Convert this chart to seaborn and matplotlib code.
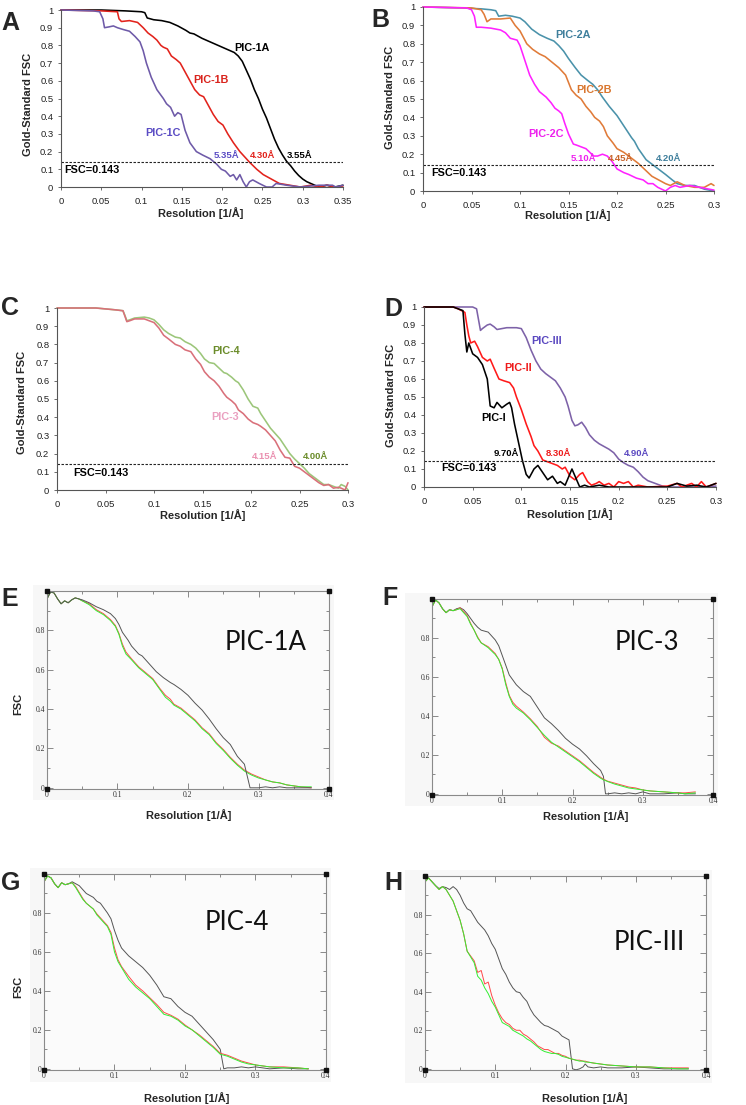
import matplotlib
matplotlib.use("Agg")
import matplotlib.pyplot as plt
import seaborn as sns
from matplotlib.ticker import FixedLocator, FuncFormatter, MultipleLocator
from matplotlib.patches import Rectangle

# ---------------- Panel A ----------------
A_1A_x = [0, 0.05, 0.08, 0.1, 0.104, 0.107, 0.115, 0.125, 0.135, 0.145, 0.155, 0.16, 0.165, 0.175, 0.185, 0.195, 0.205, 0.215, 0.22, 0.225, 0.23, 0.235, 0.24, 0.245, 0.25, 0.255, 0.26, 0.265, 0.27, 0.275, 0.28, 0.285, 0.29, 0.295, 0.3, 0.305, 0.31, 0.315, 0.32, 0.33, 0.34, 0.35]
A_1A_y = [1.0, 1.0, 0.995, 0.99, 0.985, 0.955, 0.945, 0.94, 0.93, 0.91, 0.885, 0.87, 0.865, 0.84, 0.82, 0.8, 0.78, 0.76, 0.74, 0.71, 0.66, 0.61, 0.55, 0.5, 0.44, 0.39, 0.33, 0.27, 0.22, 0.18, 0.145, 0.12, 0.09, 0.065, 0.045, 0.03, 0.02, 0.01, 0.0, 0.01, 0.0, 0.01]
A_1B_x = [0, 0.05, 0.07, 0.072, 0.075, 0.085, 0.095, 0.102, 0.108, 0.114, 0.119, 0.124, 0.127, 0.132, 0.137, 0.143, 0.148, 0.154, 0.16, 0.166, 0.172, 0.177, 0.183, 0.189, 0.195, 0.201, 0.207, 0.214, 0.222, 0.23, 0.234, 0.243, 0.251, 0.259, 0.271, 0.284, 0.297, 0.31, 0.32, 0.33, 0.34, 0.35]
A_1B_y = [1.0, 0.995, 0.99, 0.95, 0.935, 0.94, 0.93, 0.9, 0.87, 0.85, 0.83, 0.8, 0.79, 0.78, 0.74, 0.72, 0.7, 0.65, 0.6, 0.55, 0.52, 0.51, 0.46, 0.41, 0.37, 0.35, 0.3, 0.25, 0.2, 0.16, 0.14, 0.1, 0.07, 0.05, 0.02, 0.01, 0.0, 0.01, 0.0, 0.01, 0.0, 0.0]
A_1C_x = [0, 0.04, 0.048, 0.052, 0.054, 0.06, 0.065, 0.07, 0.077, 0.085, 0.092, 0.098, 0.102, 0.106, 0.112, 0.119, 0.127, 0.131, 0.136, 0.141, 0.145, 0.149, 0.154, 0.16, 0.168, 0.176, 0.185, 0.193, 0.199, 0.204, 0.21, 0.214, 0.218, 0.222, 0.226, 0.23, 0.234, 0.238, 0.246, 0.255, 0.262, 0.267, 0.28, 0.297, 0.32, 0.337, 0.341, 0.35]
A_1C_y = [1.0, 0.995, 0.99, 0.95, 0.9, 0.905, 0.91, 0.9, 0.89, 0.88, 0.85, 0.82, 0.77, 0.7, 0.62, 0.55, 0.5, 0.47, 0.45, 0.4, 0.42, 0.41, 0.32, 0.25, 0.2, 0.18, 0.16, 0.13, 0.1, 0.09, 0.06, 0.07, 0.04, 0.07, 0.03, 0.0, 0.03, 0.04, 0.02, 0.0, 0.0, 0.02, 0.01, 0.0, 0.01, 0.01, 0.0, 0.01]

# ---------------- Panel B ----------------
B_2A_x = [0, 0.04, 0.06, 0.07, 0.075, 0.078, 0.085, 0.092, 0.1, 0.105, 0.112, 0.12, 0.128, 0.135, 0.14, 0.145, 0.15, 0.157, 0.163, 0.17, 0.175, 0.18, 0.185, 0.192, 0.2, 0.205, 0.21, 0.215, 0.218, 0.222, 0.226, 0.23, 0.235, 0.24, 0.245, 0.25, 0.257, 0.262, 0.27, 0.28, 0.29, 0.3]
B_2A_y = [1.0, 0.995, 0.99, 0.985, 0.98, 0.95, 0.955, 0.95, 0.94, 0.92, 0.88, 0.85, 0.83, 0.815, 0.79, 0.76, 0.72, 0.67, 0.63, 0.6, 0.58, 0.55, 0.51, 0.46, 0.41, 0.37, 0.33, 0.29, 0.27, 0.23, 0.2, 0.17, 0.15, 0.13, 0.11, 0.09, 0.06, 0.04, 0.03, 0.03, 0.01, 0.0]
B_2B_x = [0, 0.05, 0.06, 0.063, 0.066, 0.07, 0.08, 0.09, 0.095, 0.1, 0.107, 0.113, 0.12, 0.126, 0.133, 0.14, 0.147, 0.153, 0.158, 0.163, 0.168, 0.173, 0.177, 0.182, 0.186, 0.19, 0.196, 0.2, 0.207, 0.212, 0.217, 0.222, 0.226, 0.23, 0.236, 0.243, 0.25, 0.255, 0.262, 0.27, 0.28, 0.29, 0.297, 0.3]
B_2B_y = [1.0, 0.995, 0.985, 0.96, 0.92, 0.935, 0.935, 0.94, 0.9, 0.87, 0.8, 0.77, 0.745, 0.73, 0.7, 0.67, 0.63, 0.55, 0.52, 0.5, 0.46, 0.43, 0.4, 0.38, 0.35, 0.3, 0.26, 0.23, 0.21, 0.19, 0.17, 0.15, 0.13, 0.11, 0.08, 0.06, 0.04, 0.03, 0.05, 0.03, 0.02, 0.02, 0.04, 0.03]
B_2C_x = [0, 0.045, 0.05, 0.053, 0.055, 0.06, 0.07, 0.08, 0.085, 0.09, 0.097, 0.1, 0.105, 0.11, 0.115, 0.12, 0.127, 0.132, 0.136, 0.14, 0.143, 0.146, 0.15, 0.155, 0.158, 0.163, 0.168, 0.172, 0.176, 0.18, 0.185, 0.19, 0.195, 0.2, 0.207, 0.212, 0.22, 0.227, 0.232, 0.237, 0.242, 0.246, 0.25, 0.255, 0.26, 0.265, 0.275, 0.285, 0.295, 0.3]
B_2C_y = [1.0, 0.995, 0.985, 0.95, 0.89, 0.89, 0.885, 0.875, 0.86, 0.83, 0.82, 0.79, 0.71, 0.63, 0.58, 0.54, 0.51, 0.48, 0.45, 0.435, 0.42, 0.37, 0.31, 0.255, 0.25, 0.24, 0.23, 0.21, 0.19, 0.19, 0.2, 0.19, 0.16, 0.12, 0.1, 0.09, 0.07, 0.06, 0.04, 0.04, 0.02, 0.01, 0.0, 0.02, 0.03, 0.02, 0.03, 0.02, 0.01, 0.005]

# ---------------- Panel C ----------------
C_x = [0, 0.04, 0.06, 0.068, 0.07, 0.072, 0.075, 0.08, 0.09, 0.095, 0.1, 0.105, 0.11, 0.115, 0.122, 0.127, 0.132, 0.138, 0.143, 0.148, 0.152, 0.157, 0.162, 0.167, 0.172, 0.175, 0.18, 0.184, 0.187, 0.192, 0.197, 0.202, 0.207, 0.21, 0.215, 0.22, 0.225, 0.23, 0.235, 0.24, 0.245, 0.25, 0.255, 0.26, 0.265, 0.27, 0.275, 0.28, 0.285, 0.29, 0.293, 0.297, 0.3]
C_4_y = [1.0, 1.0, 0.99, 0.985, 0.96, 0.93, 0.935, 0.945, 0.95, 0.945, 0.935, 0.91, 0.88, 0.86, 0.84, 0.835, 0.815, 0.8, 0.78, 0.75, 0.72, 0.7, 0.695, 0.67, 0.645, 0.64, 0.62, 0.6, 0.59, 0.55, 0.5, 0.46, 0.45, 0.42, 0.38, 0.34, 0.31, 0.28, 0.24, 0.2, 0.17, 0.145, 0.12, 0.09, 0.07, 0.05, 0.03, 0.03, 0.02, 0.01, 0.03, 0.02, 0.0]
C_3_y = [1.0, 1.0, 0.99, 0.985, 0.955, 0.925, 0.93, 0.94, 0.94, 0.93, 0.92, 0.89, 0.85, 0.83, 0.8, 0.79, 0.77, 0.76, 0.72, 0.69, 0.65, 0.62, 0.6, 0.57, 0.53, 0.51, 0.49, 0.47, 0.44, 0.42, 0.39, 0.37, 0.36, 0.35, 0.33, 0.3, 0.27, 0.22, 0.18, 0.175, 0.13, 0.12, 0.1, 0.08, 0.06, 0.04, 0.025, 0.03, 0.01, 0.015, 0.01, 0.0, 0.04]

# ---------------- Panel D ----------------
D_III_x = [0, 0.05, 0.054, 0.056, 0.058, 0.06, 0.065, 0.068, 0.072, 0.075, 0.08, 0.085, 0.09, 0.095, 0.1, 0.105, 0.11, 0.115, 0.12, 0.125, 0.13, 0.135, 0.14, 0.145, 0.148, 0.152, 0.155, 0.158, 0.162, 0.166, 0.17, 0.175, 0.18, 0.185, 0.19, 0.195, 0.2, 0.205, 0.21, 0.215, 0.22, 0.225, 0.23, 0.235, 0.24, 0.245, 0.25, 0.26, 0.28, 0.3]
D_III_y = [1.0, 1.0, 0.99, 0.93, 0.87, 0.88, 0.9, 0.905, 0.89, 0.875, 0.88, 0.885, 0.885, 0.885, 0.88, 0.83, 0.76, 0.7, 0.655, 0.63, 0.61, 0.59, 0.55, 0.5, 0.45, 0.37, 0.34, 0.345, 0.36, 0.33, 0.29, 0.26, 0.24, 0.225, 0.21, 0.19, 0.155, 0.135, 0.12, 0.11, 0.085, 0.055, 0.035, 0.025, 0.015, 0.005, 0.0, 0.0, 0.0, 0.005]
D_II_x = [0, 0.03, 0.035, 0.042, 0.044, 0.046, 0.048, 0.052, 0.055, 0.06, 0.065, 0.068, 0.072, 0.077, 0.082, 0.088, 0.092, 0.095, 0.1, 0.105, 0.11, 0.113, 0.117, 0.122, 0.127, 0.132, 0.137, 0.142, 0.145, 0.15, 0.155, 0.16, 0.163, 0.168, 0.172, 0.177, 0.18, 0.185, 0.19, 0.195, 0.2, 0.205, 0.21, 0.215, 0.22, 0.23, 0.25, 0.26, 0.265, 0.275, 0.28, 0.285, 0.29, 0.3]
D_II_y = [1.0, 1.0, 0.99, 0.97, 0.9, 0.84, 0.8, 0.81, 0.78, 0.72, 0.7, 0.71, 0.66, 0.6, 0.59, 0.58, 0.55, 0.5, 0.43, 0.35, 0.28, 0.23, 0.2, 0.15, 0.14, 0.13, 0.12, 0.1, 0.11, 0.06, 0.04, 0.07, 0.08, 0.03, 0.01, 0.02, 0.03, 0.01, 0.02, 0.0, 0.03, 0.02, 0.03, 0.0, 0.01, 0.0, 0.005, 0.02, 0.0, 0.02, 0.0, 0.03, 0.0, 0.02]
D_I_x = [0, 0.03, 0.04, 0.042, 0.044, 0.046, 0.05, 0.055, 0.06, 0.065, 0.068, 0.072, 0.075, 0.08, 0.085, 0.088, 0.09, 0.093, 0.097, 0.101, 0.105, 0.108, 0.113, 0.117, 0.122, 0.127, 0.132, 0.137, 0.14, 0.145, 0.152, 0.156, 0.16, 0.165, 0.17, 0.18, 0.19, 0.2, 0.25, 0.26, 0.27, 0.28, 0.29, 0.3]
D_I_y = [1.0, 1.0, 0.98, 0.85, 0.75, 0.8, 0.74, 0.72, 0.68, 0.6, 0.45, 0.44, 0.47, 0.44, 0.46, 0.47, 0.44, 0.35, 0.25, 0.15, 0.07, 0.05, 0.1, 0.12, 0.08, 0.04, 0.06, 0.02, 0.03, 0.01, 0.1, 0.05, 0.0, 0.01, 0.0, 0.01, 0.0, 0.0, 0.0, 0.02, 0.005, 0.01, 0.0, 0.02]

# ---------------- Panel E (PIC-1A) ----------------
E_x = [0, 0.005, 0.01, 0.015, 0.02, 0.025, 0.03, 0.035, 0.04, 0.045, 0.05, 0.06, 0.07, 0.08, 0.09, 0.097, 0.102, 0.107, 0.112, 0.12, 0.13, 0.14, 0.15, 0.16, 0.168, 0.175, 0.18, 0.19, 0.2, 0.21, 0.22, 0.23, 0.24, 0.25, 0.26, 0.27, 0.28, 0.29, 0.3, 0.31, 0.32, 0.33, 0.34, 0.35, 0.36, 0.375]
E_green = [0.96, 0.995, 0.99, 0.96, 0.935, 0.95, 0.94, 0.955, 0.965, 0.96, 0.95, 0.93, 0.9, 0.88, 0.85, 0.82, 0.78, 0.72, 0.68, 0.65, 0.61, 0.58, 0.55, 0.5, 0.46, 0.44, 0.42, 0.4, 0.37, 0.34, 0.3, 0.27, 0.225, 0.19, 0.15, 0.115, 0.085, 0.065, 0.05, 0.04, 0.03, 0.025, 0.015, 0.01, 0.005, 0.005]
E_red = [0.96, 0.995, 0.99, 0.96, 0.935, 0.95, 0.94, 0.955, 0.965, 0.96, 0.95, 0.935, 0.905, 0.885, 0.855, 0.825, 0.785, 0.73, 0.69, 0.655, 0.615, 0.585, 0.555, 0.505, 0.47, 0.45, 0.425, 0.405, 0.375, 0.345, 0.305, 0.275, 0.23, 0.195, 0.155, 0.12, 0.09, 0.07, 0.055, 0.04, 0.03, 0.025, 0.015, 0.01, 0.005, 0.0]
E_kx = [0, 0.005, 0.01, 0.015, 0.02, 0.025, 0.03, 0.035, 0.04, 0.05, 0.06, 0.07, 0.08, 0.09, 0.097, 0.102, 0.107, 0.115, 0.12, 0.13, 0.135, 0.145, 0.155, 0.165, 0.175, 0.18, 0.19, 0.2, 0.21, 0.22, 0.23, 0.24, 0.25, 0.26, 0.27, 0.28, 0.284, 0.288, 0.3, 0.31, 0.32, 0.33, 0.34, 0.375]
E_black = [0.96, 0.995, 0.99, 0.96, 0.935, 0.95, 0.94, 0.955, 0.965, 0.955, 0.94, 0.92, 0.905, 0.885, 0.86, 0.83, 0.79, 0.75, 0.72, 0.68, 0.67, 0.63, 0.59, 0.56, 0.535, 0.525, 0.5, 0.47, 0.43, 0.395, 0.35, 0.3, 0.255, 0.22, 0.16, 0.12, 0.06, 0.0, 0.0, 0.005, 0.0, 0.005, 0.0, 0.0]

# ---------------- Panel F (PIC-3) ----------------
F_x = [0, 0.005, 0.01, 0.015, 0.02, 0.025, 0.03, 0.035, 0.04, 0.045, 0.05, 0.055, 0.06, 0.065, 0.07, 0.08, 0.09, 0.095, 0.1, 0.105, 0.11, 0.115, 0.12, 0.13, 0.14, 0.15, 0.16, 0.17, 0.18, 0.19, 0.2, 0.21, 0.22, 0.23, 0.24, 0.244, 0.247, 0.25, 0.26, 0.27, 0.28, 0.29, 0.3, 0.31, 0.33, 0.35, 0.36, 0.375]
F_green = [0.96, 0.995, 0.98, 0.95, 0.93, 0.945, 0.94, 0.945, 0.95, 0.93, 0.91, 0.87, 0.84, 0.8, 0.775, 0.75, 0.715, 0.69, 0.64, 0.56, 0.5, 0.46, 0.44, 0.415, 0.38, 0.34, 0.3, 0.265, 0.24, 0.215, 0.19, 0.165, 0.135, 0.105, 0.08, 0.072, 0.068, 0.063, 0.05, 0.04, 0.03, 0.025, 0.02, 0.015, 0.01, 0.005, 0.0, 0.005]
F_red = [0.96, 0.995, 0.98, 0.95, 0.93, 0.945, 0.94, 0.945, 0.955, 0.935, 0.915, 0.875, 0.84, 0.805, 0.775, 0.755, 0.72, 0.69, 0.645, 0.57, 0.505, 0.47, 0.45, 0.42, 0.385, 0.345, 0.29, 0.26, 0.245, 0.22, 0.195, 0.17, 0.14, 0.11, 0.085, 0.075, 0.07, 0.065, 0.055, 0.045, 0.035, 0.03, 0.02, 0.015, 0.01, 0.005, 0.005, 0.01]
F_black = [0.96, 0.995, 0.98, 0.95, 0.93, 0.945, 0.94, 0.95, 0.955, 0.945, 0.925, 0.9, 0.875, 0.855, 0.84, 0.83, 0.79, 0.76, 0.71, 0.66, 0.61, 0.585, 0.56, 0.525, 0.5, 0.445, 0.39, 0.36, 0.325, 0.285, 0.255, 0.23, 0.195, 0.155, 0.12, 0.09, 0.0, 0.0, 0.005, 0.0, 0.005, 0.0, 0.01, 0.0, 0.0, 0.005, 0.0, 0.0]

# ---------------- Panel G (PIC-4) ----------------
G_x = [0, 0.005, 0.01, 0.015, 0.02, 0.025, 0.03, 0.035, 0.04, 0.045, 0.05, 0.055, 0.06, 0.07, 0.075, 0.08, 0.09, 0.095, 0.1, 0.105, 0.11, 0.115, 0.12, 0.13, 0.14, 0.15, 0.16, 0.17, 0.18, 0.19, 0.2, 0.21, 0.22, 0.23, 0.24, 0.25, 0.255, 0.26, 0.27, 0.28, 0.29, 0.3, 0.31, 0.32, 0.34, 0.36, 0.375]
G_green = [0.96, 0.99, 0.98, 0.95, 0.93, 0.955, 0.945, 0.95, 0.955, 0.93, 0.9, 0.87, 0.85, 0.82, 0.79, 0.77, 0.73, 0.69, 0.6, 0.55, 0.52, 0.49, 0.46, 0.42, 0.39, 0.36, 0.32, 0.28, 0.27, 0.25, 0.22, 0.2, 0.17, 0.14, 0.11, 0.075, 0.07, 0.065, 0.05, 0.035, 0.025, 0.02, 0.015, 0.01, 0.005, 0.005, 0.0]
G_red = [0.96, 0.99, 0.98, 0.95, 0.93, 0.955, 0.945, 0.95, 0.955, 0.935, 0.905, 0.875, 0.85, 0.82, 0.795, 0.775, 0.735, 0.7, 0.62, 0.56, 0.525, 0.5, 0.475, 0.43, 0.4, 0.365, 0.33, 0.29, 0.275, 0.255, 0.225, 0.2, 0.175, 0.145, 0.115, 0.08, 0.075, 0.07, 0.055, 0.04, 0.03, 0.02, 0.015, 0.01, 0.01, 0.005, 0.0]
G_black = [0.96, 0.99, 0.98, 0.95, 0.93, 0.955, 0.945, 0.95, 0.96, 0.95, 0.94, 0.92, 0.9, 0.88, 0.86, 0.85, 0.8, 0.77, 0.71, 0.66, 0.62, 0.6, 0.58, 0.55, 0.52, 0.48, 0.43, 0.37, 0.36, 0.32, 0.29, 0.27, 0.23, 0.19, 0.15, 0.1, 0.0, 0.005, 0.005, 0.01, 0.005, 0.01, 0.005, 0.0, 0.005, 0.0, 0.0]

# ---------------- Panel H (PIC-III) ----------------
H_x = [0, 0.005, 0.01, 0.015, 0.02, 0.025, 0.03, 0.035, 0.04, 0.045, 0.05, 0.055, 0.06, 0.065, 0.07, 0.075, 0.08, 0.085, 0.09, 0.095, 0.1, 0.105, 0.11, 0.115, 0.12, 0.125, 0.13, 0.135, 0.14, 0.145, 0.15, 0.155, 0.16, 0.165, 0.17, 0.175, 0.18, 0.185, 0.19, 0.195, 0.2, 0.205, 0.21, 0.215, 0.22, 0.225, 0.228, 0.232, 0.24, 0.25, 0.26, 0.28, 0.3, 0.32, 0.34, 0.36, 0.375]
H_green = [0.97, 0.99, 0.97, 0.95, 0.93, 0.945, 0.93, 0.9, 0.87, 0.82, 0.77, 0.7, 0.61, 0.58, 0.55, 0.48, 0.46, 0.42, 0.39, 0.35, 0.32, 0.28, 0.24, 0.23, 0.22, 0.2, 0.19, 0.18, 0.17, 0.155, 0.145, 0.13, 0.115, 0.1, 0.09, 0.085, 0.08, 0.08, 0.075, 0.065, 0.06, 0.055, 0.05, 0.045, 0.04, 0.04, 0.035, 0.035, 0.03, 0.025, 0.02, 0.015, 0.01, 0.01, 0.005, 0.0, 0.0]
H_red = [0.97, 0.99, 0.97, 0.95, 0.93, 0.945, 0.93, 0.9, 0.87, 0.82, 0.77, 0.7, 0.61, 0.585, 0.56, 0.5, 0.51, 0.44, 0.45, 0.38, 0.33, 0.29, 0.26, 0.24, 0.23, 0.21, 0.2, 0.2, 0.18, 0.17, 0.155, 0.14, 0.12, 0.11, 0.1, 0.1, 0.09, 0.08, 0.08, 0.07, 0.065, 0.055, 0.05, 0.045, 0.045, 0.04, 0.04, 0.035, 0.03, 0.025, 0.02, 0.015, 0.01, 0.01, 0.005, 0.005, 0.005]
H_black = [0.97, 0.99, 0.97, 0.95, 0.935, 0.945, 0.94, 0.93, 0.945, 0.93, 0.9, 0.86, 0.83, 0.82, 0.79, 0.76, 0.74, 0.72, 0.69, 0.65, 0.62, 0.57, 0.52, 0.49, 0.45, 0.42, 0.4, 0.395, 0.37, 0.35, 0.31, 0.28, 0.26, 0.24, 0.225, 0.22, 0.21, 0.2, 0.19, 0.17, 0.16, 0.15, 0.0, -0.005, 0.0, 0.01, 0.025, 0.01, 0.005, 0.01, 0.005, 0.005, 0.01, 0.005, 0.0, 0.0, 0.0]

FSC_CUTOFF = 0.143

# ---------------- drawing ----------------
sns.set_theme(style="white")
plt.rcParams['font.family'] = ['Liberation Sans', 'DejaVu Sans']

W, H = 746, 1105
fig = plt.figure(figsize=(W / 100, H / 100), dpi=100)
fig.patch.set_facecolor('white')


def rect(l, t, r, b):
    return [l / W, 1 - b / H, (r - l) / W, (b - t) / H]


def ftext(x, y, s, **kw):
    fig.text(x / W, 1 - y / H, s, **kw)


def fsc_panel(box, xmax, curves, texts, letter, letter_xy, ylab_xy, xlab_xy):
    ax = fig.add_axes(rect(*box))
    ax.set_facecolor('white')
    for x, y, c in curves:
        sns.lineplot(x=x, y=y, ax=ax, color=c, lw=1.15, estimator=None,
                     sort=False, legend=False, clip_on=False)
    ax.axhline(FSC_CUTOFF, color='#222222', lw=0.8, ls=(0, (2.2, 1.4)))
    ax.set_xlim(0, xmax)
    ax.set_ylim(0, 1)
    n = int(round(xmax / 0.05))
    ax.xaxis.set_major_locator(FixedLocator([i * 0.05 for i in range(n + 1)]))
    ax.yaxis.set_major_locator(FixedLocator([i * 0.1 for i in range(11)]))
    fmt = FuncFormatter(lambda v, p: f"{round(v, 3):g}")
    ax.xaxis.set_major_formatter(fmt)
    ax.yaxis.set_major_formatter(fmt)
    ax.tick_params(axis='both', direction='out', length=2.5, width=0.6,
                   color='#555555', labelsize=6.8, labelcolor='#222222',
                   left=True, bottom=True)
    ax.tick_params(axis='x', pad=5)
    ax.tick_params(axis='y', pad=3)
    sns.despine(ax=ax)
    for s in ('left', 'bottom'):
        ax.spines[s].set_color('#555555')
        ax.spines[s].set_linewidth(0.8)
    ax.set_xlabel('')
    ax.set_ylabel('')
    for (tx, ty, s, c, fs, ha) in texts:
        ax.text(tx, ty, s, color=c, fontsize=fs, fontweight='bold', ha=ha, va='center')
    ftext(letter_xy[0], letter_xy[1], letter, fontsize=18, fontweight='bold', va='baseline', ha='left')
    ftext(ylab_xy[0], ylab_xy[1], 'Gold-Standard FSC', fontsize=8, fontweight='bold',
          rotation=90, ha='center', va='center')
    ftext(xlab_xy[0], xlab_xy[1], 'Resolution [1/Å]', fontsize=8, fontweight='bold',
          ha='center', va='center')
    return ax


def grace_panel(box, bg, xs, curves, title, title_xy, letter, letter_xy, ylab_xy, xlab_xy):
    bg_rect = Rectangle((bg[0] / W, 1 - bg[3] / H), (bg[2] - bg[0]) / W,
                        (bg[3] - bg[1]) / H, transform=fig.transFigure,
                        facecolor='#f7f7f7', edgecolor='none', zorder=-5)
    fig.patches.append(bg_rect)
    ax = fig.add_axes(rect(*box))
    ax.set_zorder(2)
    ax.set_facecolor('#fbfbfb')
    for y, c, lw in curves:
        sns.lineplot(x=xs, y=y, ax=ax, color=c, lw=lw, estimator=None,
                     sort=False, legend=False)
    ax.set_xlim(0, 0.4)
    ax.set_ylim(-0.006, 1.0)
    ax.xaxis.set_major_locator(FixedLocator([0, 0.1, 0.2, 0.3, 0.4]))
    ax.xaxis.set_minor_locator(MultipleLocator(0.05))
    ax.yaxis.set_major_locator(FixedLocator([0, 0.2, 0.4, 0.6, 0.8]))
    ax.yaxis.set_minor_locator(FixedLocator([0.1, 0.3, 0.5, 0.7, 0.9]))
    fmt = FuncFormatter(lambda v, p: f"{round(v, 3):g}")
    ax.xaxis.set_major_formatter(fmt)
    ax.yaxis.set_major_formatter(fmt)
    ax.tick_params(which='both', direction='in', top=True, right=True, left=True, bottom=True,
                   color='#777777', width=0.6, labelsize=5.5, labelcolor='#333333',
                   labelfontfamily='Liberation Serif')
    ax.tick_params(which='major', length=4, pad=1.5)
    ax.tick_params(which='minor', length=2)
    for s in ax.spines.values():
        s.set_visible(True)
        s.set_color('#8a8a8a')
        s.set_linewidth(0.8)
    ax.plot([0, 1, 0, 1], [0, 0, 1, 1], 's', transform=ax.transAxes, ms=2.8,
            color='#111111', clip_on=False, zorder=5)
    ax.set_xlabel('')
    ax.set_ylabel('')
    ftext(title_xy[0], title_xy[1], title, fontsize=18.5, family=['Lato', 'DejaVu Sans'],
          ha='center', va='center', color='#111111', zorder=10)
    ftext(letter_xy[0], letter_xy[1], letter, fontsize=18, fontweight='bold', va='baseline', ha='left')
    if ylab_xy is not None:
        ftext(ylab_xy[0], ylab_xy[1], 'FSC', fontsize=8, fontweight='bold',
              rotation=90, ha='center', va='center')
    ftext(xlab_xy[0], xlab_xy[1], 'Resolution [1/Å]', fontsize=8, fontweight='bold',
          ha='center', va='center')
    return ax


# Panel A
fsc_panel((61, 10, 343, 187), 0.35,
          [(A_1A_x, A_1A_y, '#000000'), (A_1B_x, A_1B_y, '#e2231c'), (A_1C_x, A_1C_y, '#6e5aa8')],
          [(0.237, 0.784, 'PIC-1A', '#000000', 7.8, 'center'),
           (0.186, 0.605, 'PIC-1B', '#d9231c', 7.8, 'center'),
           (0.127, 0.305, 'PIC-1C', '#5a4cc4', 7.8, 'center'),
           (0.205, 0.18, '5.35Å', '#5a4cc4', 6.8, 'center'),
           (0.25, 0.18, '4.30Å', '#e2231c', 6.8, 'center'),
           (0.296, 0.18, '3.55Å', '#000000', 6.8, 'center'),
           (0.004, 0.098, 'FSC=0.143', '#000000', 7.8, 'left')],
          'A', (1, 30), (28, 104), (201, 213))

# Panel B
fsc_panel((423, 7, 714, 191), 0.3,
          [(B_2A_x, B_2A_y, '#4a92aa'), (B_2B_x, B_2B_y, '#e07b39'), (B_2C_x, B_2C_y, '#ff22ff')],
          [(0.155, 0.846, 'PIC-2A', '#3f7f9c', 7.8, 'center'),
           (0.176, 0.547, 'PIC-2B', '#d9762e', 7.8, 'center'),
           (0.127, 0.31, 'PIC-2C', '#ee22ee', 7.8, 'center'),
           (0.165, 0.176, '5.10Å', '#ee22ee', 6.8, 'center'),
           (0.204, 0.176, '4.45Å', '#c8642a', 6.8, 'center'),
           (0.253, 0.176, '4.20Å', '#3f7f9c', 6.8, 'center'),
           (0.008, 0.1, 'FSC=0.143', '#000000', 7.8, 'left')],
          'B', (371, 27), (390, 97), (568, 215))

# Panel C
fsc_panel((57, 308, 348, 490), 0.3,
          [(C_x, C_4_y, '#9cc67a'), (C_x, C_3_y, '#d9707a')],
          [(0.174, 0.764, 'PIC-4', '#6b8c2a', 7.8, 'center'),
           (0.173, 0.4, 'PIC-3', '#eaa0c0', 7.8, 'center'),
           (0.2136, 0.183, '4.15Å', '#ea90b0', 6.8, 'center'),
           (0.266, 0.183, '4.00Å', '#6b8c2a', 6.8, 'center'),
           (0.0165, 0.093, 'FSC=0.143', '#000000', 7.8, 'left')],
          'C', (1, 315), (22, 402), (203, 515))

# Panel D
fsc_panel((424, 307, 716, 487), 0.3,
          [(D_III_x, D_III_y, '#7d62a8'), (D_II_x, D_II_y, '#ff1a1a'), (D_I_x, D_I_y, '#000000')],
          [(0.126, 0.811, 'PIC-III', '#5a48c0', 7.8, 'center'),
           (0.0966, 0.663, 'PIC-II', '#ee1a1a', 7.8, 'center'),
           (0.0716, 0.385, 'PIC-I', '#000000', 7.8, 'center'),
           (0.085, 0.187, '9.70Å', '#000000', 6.8, 'center'),
           (0.138, 0.187, '8.30Å', '#ee1a1a', 6.8, 'center'),
           (0.218, 0.187, '4.90Å', '#5a48c0', 6.8, 'center'),
           (0.018, 0.105, 'FSC=0.143', '#000000', 7.8, 'left')],
          'D', (384, 316), (391, 395), (570, 514))

GRACE_BLACK = '#555555'
GRACE_RED = '#ff4a4a'
GRACE_GREEN = '#33ee33'

# Panel E
ax_e = grace_panel((47, 591, 329, 789), (33, 585, 334, 800), E_x,
                   [(E_red, GRACE_RED, 0.7), (E_green, GRACE_GREEN, 0.7)],
                   'PIC-1A', (266, 642), 'E', (1, 606), (18, 704), (189, 815))
sns.lineplot(x=E_kx, y=E_black, ax=ax_e, color=GRACE_BLACK, lw=0.7, estimator=None,
             sort=False, legend=False)

# Panel F
grace_panel((432, 599, 713, 795), (405, 593, 718, 806), F_x,
            [(F_black, GRACE_BLACK, 0.7), (F_red, GRACE_RED, 0.7), (F_green, GRACE_GREEN, 0.7)],
            'PIC-3', (647, 643), 'F', (382, 605), None, (586, 816))

# Panel G
grace_panel((44, 874, 326, 1070), (30, 868, 331, 1082), G_x,
            [(G_black, GRACE_BLACK, 0.7), (G_red, GRACE_RED, 0.7), (G_green, GRACE_GREEN, 0.7)],
            'PIC-4', (237, 923), 'G', (1, 890), (18, 987), (187, 1098))

# Panel H
grace_panel((425, 876, 706, 1070), (405, 870, 712, 1083), H_x,
            [(H_black, GRACE_BLACK, 0.7), (H_red, GRACE_RED, 0.7), (H_green, GRACE_GREEN, 0.7)],
            'PIC-III', (649, 942), 'H', (384, 890), None, (585, 1098))

fig.savefig('out.png', dpi=100, facecolor='white')
